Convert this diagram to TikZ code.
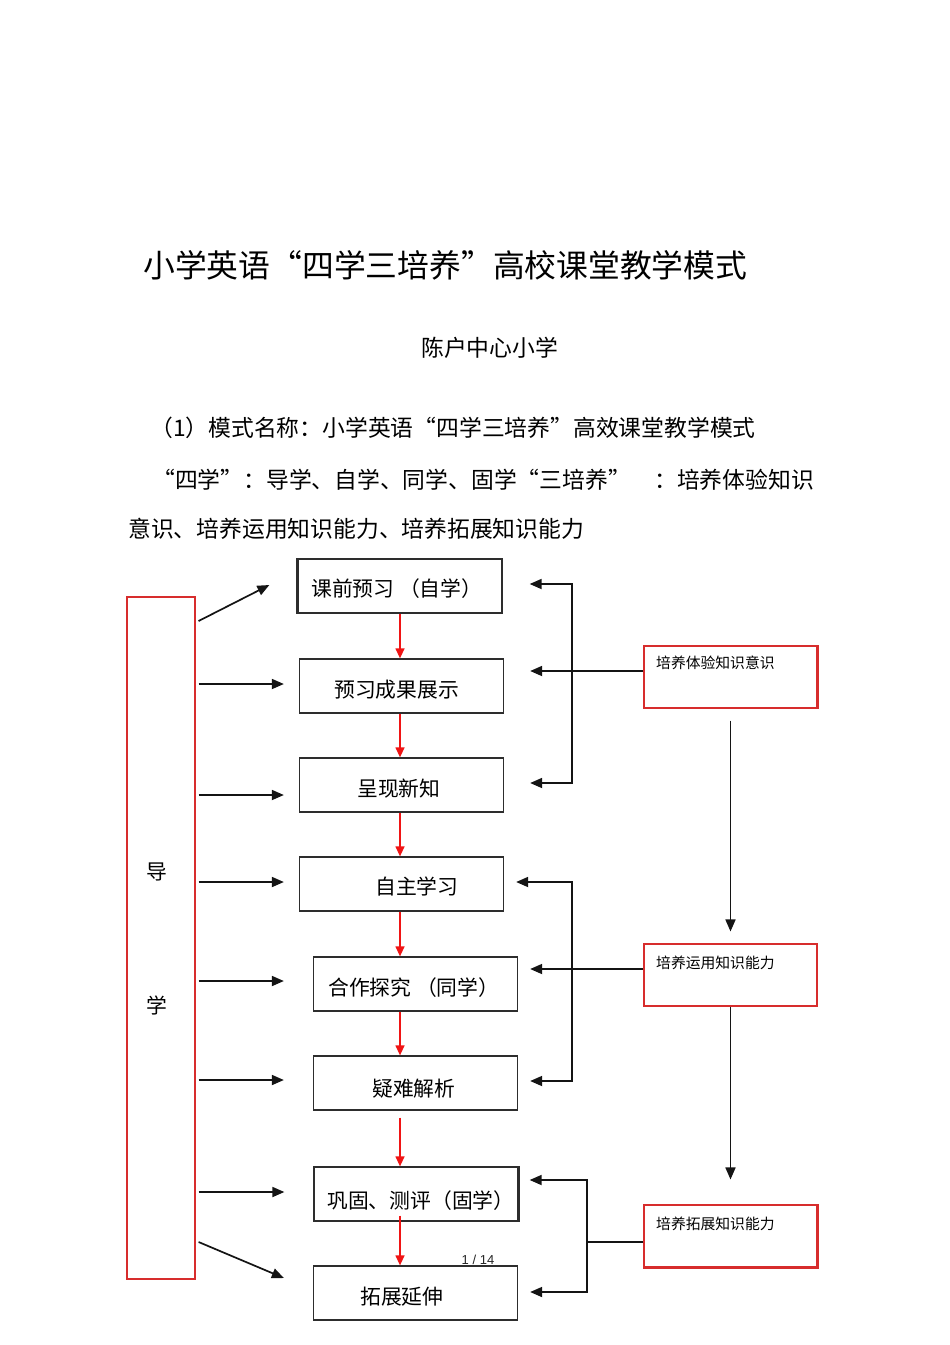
\documentclass[tikz,border=0pt]{standalone}
\usepackage{fontspec}
\setmainfont{Noto Sans CJK SC}
\newfontfamily\latinsans{Liberation Sans}
\usetikzlibrary{arrows.meta,calc}
\definecolor{boxgray}{RGB}{45,45,45}
\definecolor{connblack}{RGB}{20,20,20}
\definecolor{redbox}{RGB}{215,45,45}
\definecolor{redarr}{RGB}{240,20,20}
\begin{document}
\begin{tikzpicture}[x=1pt,y=-1pt,
  txt/.style={anchor=west, inner sep=0pt, text=black},
  bodyfont/.style={font=\fontsize{22.8}{24}\selectfont},
  titlefont/.style={font=\fontsize{31.8}{33}\selectfont},
  boxfont/.style={font=\fontsize{20.8}{22}\selectfont},
  smallfont/.style={font=\fontsize{14.8}{16}\selectfont},
  stepbox/.style={draw=boxgray, line width=1.3pt, minimum width=204pt, minimum height=54pt, inner sep=0pt},
  redframe/.style={draw=redbox, line width=1.2pt, inner sep=0pt},
  keybox/.style={draw=redbox, line width=1.1pt, minimum width=173pt, minimum height=62pt, inner sep=0pt},
  flow/.style={draw=redarr, line width=1.3pt, -{Triangle[length=10pt,width=9pt]}},
  conn/.style={draw=connblack, line width=1.7pt},
  arr/.style={conn, -{Triangle[length=12pt,width=10pt]}},
  barr/.style={conn, {Triangle[length=12pt,width=10pt]}-{Triangle[length=12pt,width=10pt]}}
]
\useasboundingbox[fill=white] (0,0) rectangle (950,1345);

% header texts
\node[txt,titlefont] (title) at (143,265) {小学英语“四学三培养”高校课堂教学模式};
\node[txt,bodyfont] (school) at (421,348) {陈户中心小学};
\node[txt,bodyfont] (line1) at (150,428) {（1）模式名称：小学英语“四学三培养”高效课堂教学模式};
\node[txt,bodyfont] (line2a) at (152,480) {“四学”：导学、自学、同学、固学“三培养”};
\node[txt,bodyfont] (line2b) at (654,480) {：培养体验知识};
\node[txt,bodyfont] (line3) at (128,529) {意识、培养运用知识能力、培养拓展知识能力};

% left red frame
\node[redframe, minimum width=68pt, minimum height=682pt] (L) at (161,938) {};
\node[inner sep=0pt, boxfont] (dao) at (157,872) {导};
\node[inner sep=0pt, boxfont] (xue) at (157,1005) {学};

% step boxes
\node[stepbox] (b1) at (400,586) {};
\node[stepbox] (b2) at (401.5,686) {};
\node[stepbox] (b3) at (401.5,785) {};
\node[stepbox] (b4) at (401.5,884) {};
\node[stepbox] (b5) at (415.5,984) {};
\node[stepbox] (b6) at (415.5,1083) {};
\node[stepbox] (b7) at (416,1194) {};
\node[stepbox] (b8) at (415.5,1293) {};
\draw[boxgray, line width=2pt] (b1.north west) -- (b1.south west);
\draw[boxgray, line width=2pt] (b7.north east) -- (b7.south east);

\node[txt,boxfont] (t1) at (311,589) {课前预习 （自学）};
\node[txt,boxfont] (t2) at (334,690) {预习成果展示};
\node[txt,boxfont] (t3) at (357,789) {呈现新知};
\node[txt,boxfont] (t4) at (375,886) {自主学习};
\node[txt,boxfont] (t5) at (328,988) {合作探究 （同学）};
\node[txt,boxfont] (t6) at (372,1089) {疑难解析};
\node[txt,boxfont] (t7) at (327,1201) {巩固、测评（固学）};
\node[txt,boxfont] (t8) at (360,1297) {拓展延伸};

% flow arrows (red)
\coordinate (col) at (400,0);
\draw[flow] (b1.south -| col) -- (b2.north -| col);
\draw[flow] (b2.south -| col) -- (b3.north -| col);
\draw[flow] (b3.south -| col) -- (b4.north -| col);
\draw[flow] (b4.south -| col) -- (b5.north -| col);
\draw[flow] (b5.south -| col) -- (b6.north -| col);
\draw[flow] ($(b6.south -| col)+(0,7)$) -- (b7.north -| col);
\draw[flow] ($(b7.south -| col)+(0,-6)$) -- (b8.north -| col);

% left arrows from the guide frame
\draw[arr] ($(L.east |- b1)+(3,35)$) -- ($(b1.west)+(-28,-1)$);
\draw[arr] ($(L.east |- b2)+(3,-2)$) -- ($(b2.west)+(-15,-2)$);
\draw[arr] ($(L.east |- b3)+(3,10)$) -- ($(b3.west)+(-15,10)$);
\draw[arr] ($(L.east |- b4)+(3,-2)$) -- ($(b4.west)+(-15,-2)$);
\draw[arr] ($(L.east |- b5)+(3,-3)$) -- ($(b5.west)+(-29,-3)$);
\draw[arr] ($(L.east |- b6)+(3,-3)$) -- ($(b6.west)+(-29,-3)$);
\draw[arr] ($(L.east |- b7)+(3,-2)$) -- ($(b7.west)+(-29,-2)$);
\draw[arr] ($(L.east |- b8)+(3,-51)$) -- ($(b8.west)+(-29,-15)$);

% key boxes (red)
\node[keybox] (k1) at (730.5,677) {};
\node[keybox] (k2) at (730.5,975) {};
\node[keybox] (k3) at (730.5,1236) {};
\draw[redbox, line width=2.2pt] (k1.north east) -- (k1.south east);
\draw[redbox, line width=2.2pt] (k3.north east) -- (k3.south east) -- (k3.south west);
\node[txt,smallfont] (kt1) at (656,663) {培养体验知识意识};
\node[txt,smallfont] (kt2) at (656,963) {培养运用知识能力};
\node[txt,smallfont] (kt3) at (656,1224) {培养拓展知识能力};

% vertical arrows between key boxes
\draw[arr] ($(k1.south)+(0,12)$) -- ($(k2.north)+(0,-12)$);
\draw[arr] (k2.south) -- ($(k3.north)+(0,-25)$);

% right brackets
\coordinate (r1) at (572,0);
\coordinate (r3) at (587,0);
\draw[barr] ($(b1.east)+(27,-2)$) -| ($(b3.east -| r1)+(0,-2)$) -- ($(b3.east)+(26,-2)$);
\draw[arr] ($(k1.west)+(0,-6)$) -- ($(b2.east)+(26,-15)$);
\draw[barr] ($(b4.east)+(12,-2)$) -| ($(b6.east -| r1)+(0,-2)$) -- ($(b6.east)+(12,-2)$);
\draw[arr] ($(k2.west)+(0,-6)$) -- ($(b5.east)+(12,-15)$);
\draw[barr] ($(b7.east)+(11,-14)$) -| ($(b8.east -| r3)+(0,-1)$) -- ($(b8.east)+(12,-1)$);
\draw[conn] ($(k3.west)+(0,6)$) -- ($(k3.west -| r3)+(0,6)$);

% page number
\node[inner sep=0pt, font=\latinsans\fontsize{13}{14}\selectfont, text=black!85] (page) at (478,1260) {1 / 14};
\end{tikzpicture}
\end{document}
